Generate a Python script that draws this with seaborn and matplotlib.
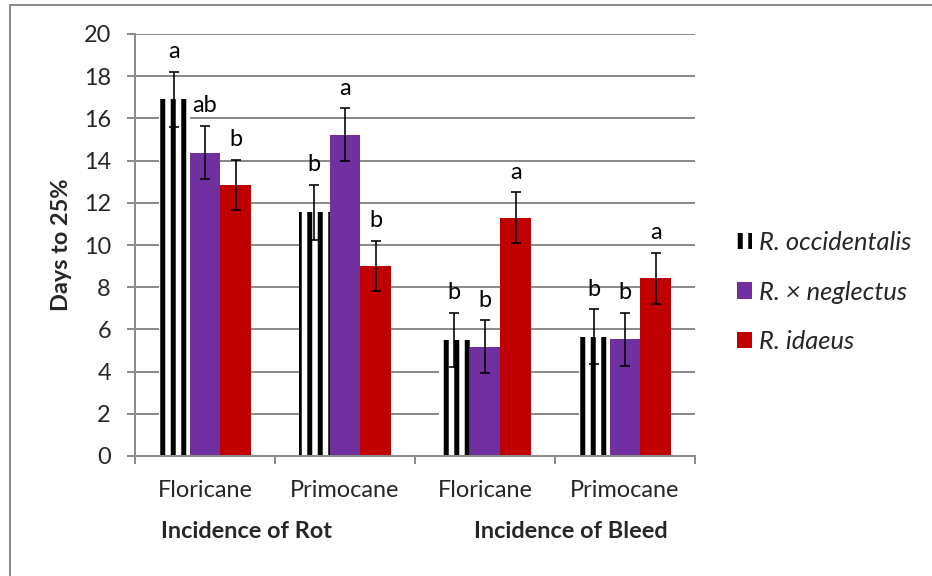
import numpy as np
import pandas as pd
import matplotlib
matplotlib.use("Agg")
import matplotlib.pyplot as plt
from matplotlib.patches import Patch
from matplotlib.lines import Line2D
from matplotlib.font_manager import FontProperties
import seaborn as sns

# ---------------- data ----------------
cat_keys = ["Rot-Floricane", "Rot-Primocane", "Bleed-Floricane", "Bleed-Primocane"]
tick_labels = ["Floricane", "Primocane", "Floricane", "Primocane"]
group_labels = ["Incidence of Rot", "Incidence of Bleed"]
species = ["R. occidentalis", "R. \u00d7 neglectus", "R. idaeus"]

occ_mean = [16.9, 11.55, 5.5, 5.65]
neg_mean = [14.38, 15.22, 5.17, 5.53]
ida_mean = [12.85, 9.0, 11.3, 8.42]

occ_err = [1.3, 1.3, 1.3, 1.3]
neg_err = [1.26, 1.26, 1.26, 1.26]
ida_err = [1.19, 1.19, 1.19, 1.2]

occ_let = ["a", "b", "b", "b"]
neg_let = ["ab", "a", "b", "b"]
ida_let = ["b", "b", "a", "a"]

colors = ["white", "#7030A0", "#C00000"]

# ---------------- layout helpers ----------------
W, H, DPI = 932, 576, 126
def px(v):
    return v * 72.0 / DPI
def fx(x):
    return x / W
def fy(y):
    return 1 - y / H

sns.set_style("white")
FAM = ["Lato", "DejaVu Sans"]
plt.rcParams["font.family"] = FAM
plt.rcParams["hatch.linewidth"] = px(5)
FS = px(23.5)
GRID = "#8c8c8c"

means = [occ_mean, neg_mean, ida_mean]
errs = [occ_err, neg_err, ida_err]
lets = [occ_let, neg_let, ida_let]

rows = []
for s, m in zip(species, means):
    for c, v in zip(cat_keys, m):
        rows.append({"category": c, "species": s, "days": v})
df = pd.DataFrame(rows)

fig = plt.figure(figsize=(W / DPI, H / DPI), dpi=DPI)
ax = fig.add_axes([fx(135), fy(456), fx(695) - fx(135), fy(34) - fy(456)])

sns.barplot(data=df, x="category", y="days", hue="species", order=cat_keys,
            hue_order=species, palette=colors, width=0.664, errorbar=None,
            saturation=1, legend=False, linewidth=0, ax=ax)

# hatch for R. occidentalis
for bar in ax.containers[0]:
    bar.set_hatch("||")
    bar.set_edgecolor("black")
    bar.set_linewidth(0)

# error bars and letters
for cont, e, lt in zip(ax.containers, errs, lets):
    xs = [b.get_x() + b.get_width() / 2 for b in cont]
    ys = [b.get_height() for b in cont]
    ax.errorbar(xs, ys, yerr=e, fmt="none", ecolor="black", elinewidth=px(1.6),
                capsize=px(5), capthick=px(1.6), zorder=5)
    for x, y, ee, t in zip(xs, ys, e, lt):
        ax.text(x, y + ee + 0.95, t, ha="center", va="center", fontsize=FS, color="black")

ax.set_xlim(-0.5, 3.5)
ax.set_ylim(0, 20)
ax.set_yticks(np.arange(0, 21, 2))
ax.set_xticks(range(4))
ax.set_xticklabels(tick_labels)
ax.set_xticks(np.arange(-0.5, 4, 1), minor=True)
ax.set_xlabel("")
ax.set_ylabel("")

ax.yaxis.grid(True, color=GRID, lw=px(2))
ax.set_axisbelow(True)
for s in ["top", "right"]:
    ax.spines[s].set_visible(False)
for s in ["left", "bottom"]:
    ax.spines[s].set_color(GRID)
    ax.spines[s].set_linewidth(px(2))

ax.tick_params(axis="y", which="major", length=px(8), width=px(2), color=GRID,
               labelsize=FS, pad=px(16), left=True)
ax.tick_params(axis="x", which="major", length=0, labelsize=FS, pad=px(24))
ax.tick_params(axis="x", which="minor", length=px(8), width=px(2), color=GRID,
               bottom=True, direction="out")

# y label
fig.text(fx(61), fy(245), "Days to 25%", rotation=90, ha="center", va="center",
         fontsize=FS, fontweight="bold")

# group labels
fig.text(fx(246), fy(532), group_labels[0], ha="center", va="center",
         fontsize=FS, fontweight="bold")
fig.text(fx(571), fy(532), group_labels[1], ha="center", va="center",
         fontsize=FS, fontweight="bold")

# legend
handles = [Patch(facecolor="white", edgecolor="black", hatch="||", linewidth=0),
           Patch(facecolor=colors[1], linewidth=0),
           Patch(facecolor=colors[2], linewidth=0)]
LFS = px(25.5)
fig.legend(handles, species, loc="center left", bbox_to_anchor=(fx(737), fy(292)),
           frameon=False, prop=FontProperties(family=FAM, style="italic", size=LFS),
           handlelength=0.6, handleheight=0.6, handletextpad=0.28,
           labelspacing=1.05, borderpad=0, borderaxespad=0)

# chart-area border (left and top visible)
fig.add_artist(Line2D([fx(10), fx(10)], [fy(5), 0], color=GRID, lw=px(2)))
fig.add_artist(Line2D([fx(10), 1], [fy(5), fy(5)], color=GRID, lw=px(2)))

fig.savefig("out.png", dpi=DPI)
